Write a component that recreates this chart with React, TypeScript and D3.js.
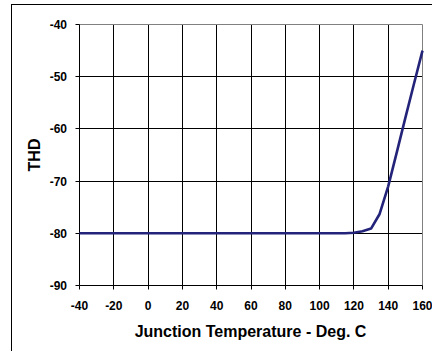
import React from "react";
import * as d3 from "d3";

const temps = [-40, -20, 0, 20, 40, 60, 80, 100, 110, 115, 120, 125, 130, 135, 140, 145, 150, 155, 160];
const thd = [-80, -80, -80, -80, -80, -80, -80, -80, -80, -80, -79.9, -79.6, -79.1, -76.3, -71, -64.5, -57.9, -51.4, -45];
const xTicks = [-40, -20, 0, 20, 40, 60, 80, 100, 120, 140, 160];
const yTicks = [-40, -50, -60, -70, -80, -90];

export default function App() {
  const W = 432, H = 351;
  const x = d3.scaleLinear().domain([-40, 160]).range([79.5, 422.5]);
  const y = d3.scaleLinear().domain([-90, -40]).range([285.5, 24.5]);
  const px = (v: number) => Math.round(x(v) - 0.5) + 0.5;
  const py = (v: number) => Math.round(y(v) - 0.5) + 0.5;
  const line = d3.line<number>().x((d, i) => x(temps[i])).y((d) => y(d));
  const font = "'Liberation Sans', Arial, sans-serif";
  return (
    <svg width={W} height={H} style={{ position: "absolute", left: 0, top: 0 }}>
      <rect x={0} y={0} width={W} height={H} fill="#fff" />
      <rect x={11.5} y={4.5} width={W + 10} height={H + 10} fill="none" stroke="#000" strokeWidth={1} />
      {yTicks.slice(1, -1).map((t) => (
        <line key={"hy" + t} x1={px(-40)} x2={px(160)} y1={py(t)} y2={py(t)} stroke="#000" strokeWidth={1} />
      ))}
      {xTicks.slice(1, -1).map((t) => (
        <line key={"vx" + t} x1={px(t)} x2={px(t)} y1={py(-40)} y2={py(-90)} stroke="#000" strokeWidth={1} />
      ))}
      <line x1={px(-40)} x2={px(160)} y1={py(-40)} y2={py(-40)} stroke="#808080" />
      <line x1={px(160)} x2={px(160)} y1={py(-40)} y2={py(-90)} stroke="#808080" />
      <line x1={px(-40)} x2={px(-40)} y1={py(-40)} y2={py(-90)} stroke="#000" />
      <line x1={px(-40)} x2={px(160)} y1={py(-90)} y2={py(-90)} stroke="#000" />
      {yTicks.map((t) => (
        <g key={"yt" + t}>
          <line x1={px(-40) - 4} x2={px(-40)} y1={py(t)} y2={py(t)} stroke="#000" />
          <text x={67} y={py(t) + 4.5} textAnchor="end" fontFamily={font} fontWeight="bold" fontSize={12} fill="#000">
            {t}
          </text>
        </g>
      ))}
      {xTicks.map((t) => (
        <g key={"xt" + t}>
          <line x1={px(t)} x2={px(t)} y1={py(-90)} y2={py(-90) + 4} stroke="#000" />
          <text x={x(t)} y={310} textAnchor="middle" fontFamily={font} fontWeight="bold" fontSize={12} fill="#000">
            {t}
          </text>
        </g>
      ))}
      <path d={line(thd) || ""} fill="none" stroke="#23237a" strokeWidth={2.6} strokeLinejoin="round" />
      <text x={250.5} y={337} textAnchor="middle" fontFamily={font} fontWeight="bold" fontSize={16} fill="#000">
        Junction Temperature - Deg. C
      </text>
      <text
        transform={`translate(39.5,155) rotate(-90)`}
        textAnchor="middle"
        fontFamily={font}
        fontWeight="bold"
        fontSize={16}
        fill="#000"
      >
        THD
      </text>
    </svg>
  );
}
